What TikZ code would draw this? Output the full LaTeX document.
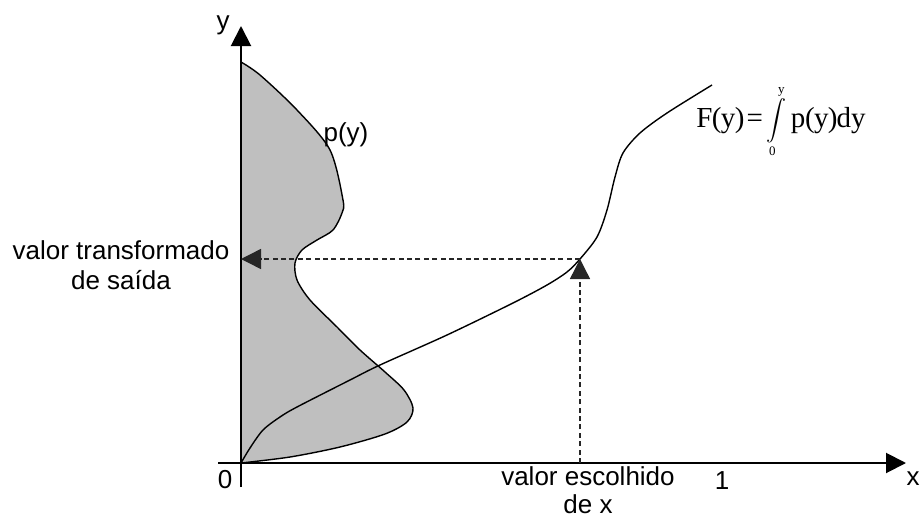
\documentclass[tikz,border=0pt]{standalone}
\usepackage{fontspec}
\setmainfont{Liberation Sans}
\newfontfamily\timesfont{Liberation Serif}
\usetikzlibrary{arrows.meta}

\newcommand{\grenze}[1]{\hbox{\fontsize{6.5}{6.5}\timesfont #1}}

\begin{document}
\begin{tikzpicture}[x=0.5pt, y=-0.5pt,
        every node/.style={font=\fontsize{13}{15}\selectfont, inner sep=1pt},
        achse/.style={draw=black, line width=1pt,
                      -{Triangle[width=10pt,length=10pt]}},
        kurve/.style={draw=black, line width=0.7pt},
        flaeche/.style={kurve, fill=black!25},
        hilfslinie/.style={draw=black!85, line width=0.7pt,
                           dash pattern=on 2.5pt off 1.7pt,
                           -{Triangle[width=10pt,length=10pt]}},
        text2/.style={align=center}
    ]
        \useasboundingbox (0,0) rectangle (923,520);

        \coordinate (orig)    at (241,463);
        \coordinate (xanf)    at (218,463);
        \coordinate (xend)    at (906,463);
        \coordinate (yanf)    at (241,487);
        \coordinate (yend)    at (241,26);
        \coordinate (xwahl)   at (580,463);
        \coordinate (schnitt) at (580,259);
        \coordinate (yaus)    at (241,259);

        % Dichte p(y)
        \filldraw[flaeche] plot[smooth, tension=0.5] coordinates {
            (241,62) (260,75) (297,110) (330,150) (343,200) (342,213)
            (333,230) (317,240) (302,250) (295,263) (297,280) (310,300)
            (337,327) (360,350) (385,372) (404,390) (413,408) (407,422)
            (385,434) (340,447) (290,457) (241,463)} -- cycle;

        % Verteilung F(y)
        \draw[kurve] plot[smooth, tension=0.5] coordinates {
            (241,463) (250,448) (263,430) (280,417) (297,407) (350,380)
            (380,365) (447,335) (513,303) (547,285) (567,272) (580,259)
            (597,237) (607,210) (615,177) (623,153) (640,133) (667,113)
            (712,85)};

        \draw[achse] (xanf) -- (xend);
        \draw[achse] (yanf) -- (yend);

        \draw[hilfslinie] (xwahl) -- (schnitt);
        \draw[hilfslinie] (schnitt) -- (yaus);

        \node (ylab) at (223,25)  {y};
        \node (xlab) at (913,479) {x};
        \node (null) at (225,480) {0};
        \node (eins) at (722,481) {1};
        \node (plab) at (346,135) {p(y)};

        \node[text2] (aus) at (121,265) {valor transformado\\de saída};
        \node[text2, font=\fontsize{13}{14}\selectfont] (wahl) at (588,490)
            {valor escolhido\\de x};

        \node[font=\fontsize{14.5}{16}\timesfont, anchor=base west, inner sep=0pt]
            (formel) at (696,127)
            {F\kern-0.3pt(\kern-0.3pt y\kern-0.3pt)\kern1pt=\kern2pt{\fontsize{11.5}{12}\selectfont$\displaystyle\int\limits_{\grenze{0}}^{\grenze{y}}$}\kern2pt p\kern-0.2pt(\kern-0.3pt y\kern-0.3pt)\kern-0.5pt dy};
    \end{tikzpicture}
\end{document}
